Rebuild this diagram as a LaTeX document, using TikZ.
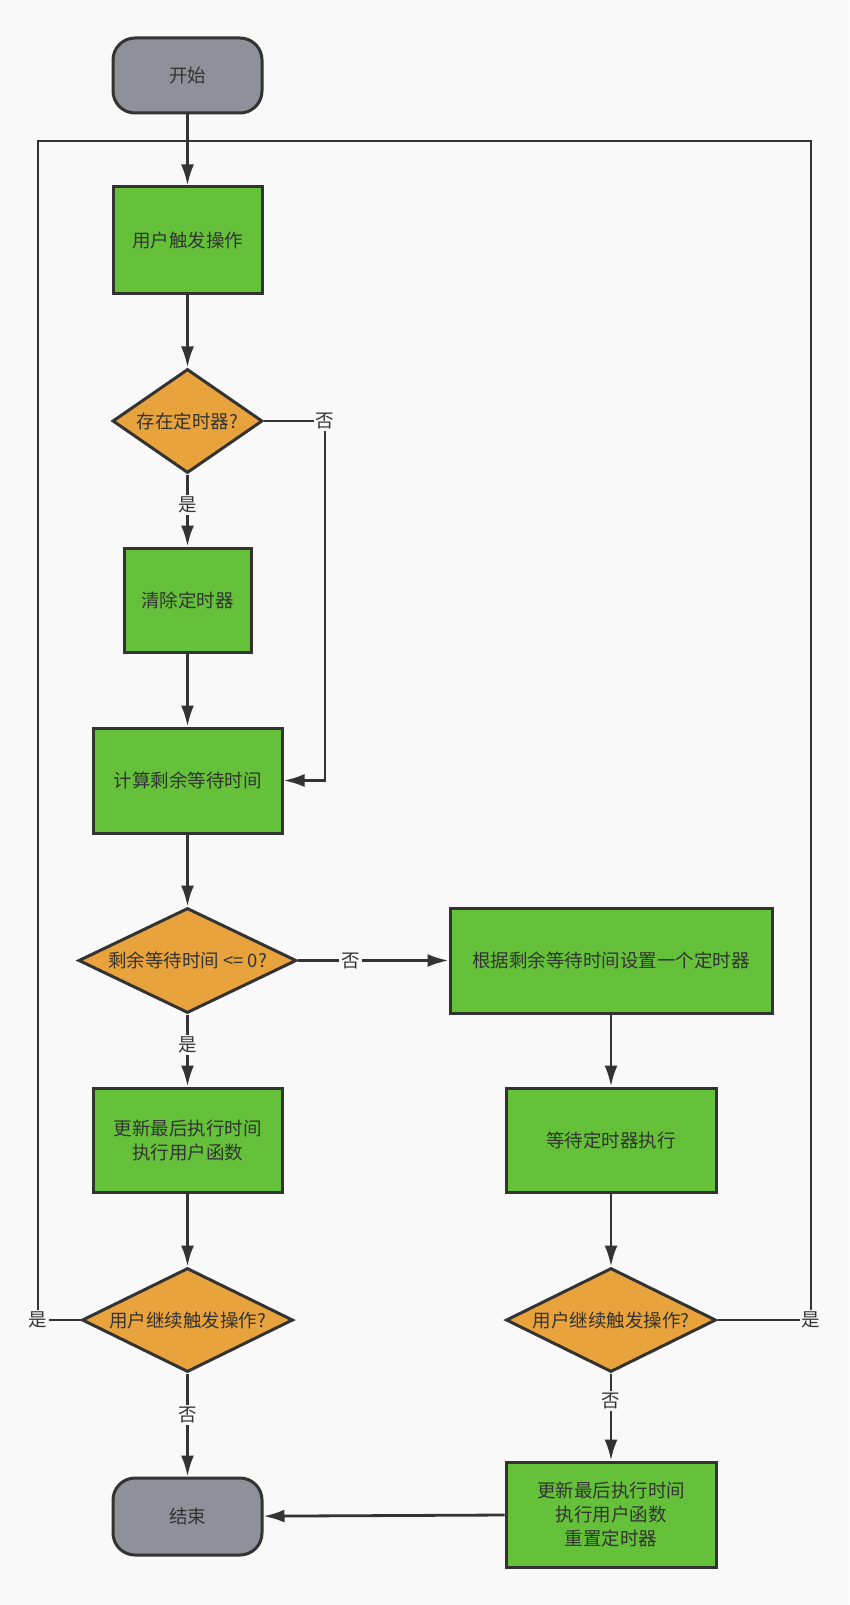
\documentclass[tikz,border=0pt]{standalone}
\usepackage{fontspec}
\setmainfont{Noto Sans CJK SC}
\usetikzlibrary{shapes.geometric,arrows.meta}

\definecolor{bgc}{HTML}{F9F9F9}
\definecolor{linec}{HTML}{333333}
\definecolor{termc}{HTML}{8E9199}
\definecolor{procc}{HTML}{66C13A}
\definecolor{decc}{HTML}{E8A33C}

\tikzset{
  every node/.style={inner sep=0pt, font=\fontsize{18.5}{24}\selectfont, text=linec},
  term/.style={draw=linec, line width=3pt, fill=termc, rounded corners=22pt},
  proc/.style={draw=linec, line width=3pt, fill=procc, align=center},
  decision/.style={diamond, draw=linec, line width=3pt, fill=decc},
  lbl/.style={fill=bgc, inner sep=2pt},
  conn/.style={draw=linec, line width=2.8pt},
  arr/.style={conn, -{Latex[length=21pt,width=13pt]}}
}

\begin{document}
\begin{tikzpicture}[x=1pt, y=-1pt]
  \fill[bgc] (0,0) rectangle (849,1605);
  \useasboundingbox (0,0) rectangle (849,1605);

  % Left column
  \node[term, minimum width=149pt, minimum height=75pt] (start) at (187.5,75.5) {开始};
  \node[proc, minimum width=149pt, minimum height=106pt] (trig) at (187.5,240) {用户触发操作};
  \node[decision, minimum width=150pt, minimum height=104pt, label=center:{存在定时器?}] (hast) at (187.5,421) {};
  \node[proc, minimum width=127pt, minimum height=104pt] (clr) at (187.5,600) {清除定时器};
  \node[proc, minimum width=189pt, minimum height=105pt] (calc) at (187.5,780.5) {计算剩余等待时间};
  \node[decision, minimum width=218pt, minimum height=105pt, label=center:{剩余等待时间 <= 0?}] (due) at (187.5,960.5) {};
  \node[proc, minimum width=189pt, minimum height=104pt] (run) at (187.5,1140) {更新最后执行时间\\执行用户函数};
  \node[decision, minimum width=211pt, minimum height=104pt, label=center:{用户继续触发操作?}] (againL) at (187.5,1320) {};
  \node[term, minimum width=149pt, minimum height=77pt] (stop) at (187.5,1516.5) {结束};

  % Right column
  \node[proc, minimum width=322pt, minimum height=105pt] (setT) at (611,960.5) {根据剩余等待时间设置一个定时器};
  \node[proc, minimum width=210pt, minimum height=104pt] (waitT) at (611,1140) {等待定时器执行};
  \node[decision, minimum width=210pt, minimum height=104pt, label=center:{用户继续触发操作?}] (againR) at (611,1320) {};
  \node[proc, minimum width=210pt, minimum height=105pt] (runR) at (611,1514.5) {更新最后执行时间\\执行用户函数\\重置定时器};

  % Loop corners
  \coordinate (loopL) at (38,141);
  \coordinate (loopR) at (811,141);
  \coordinate (join) at (187.5,141);
  \coordinate (skip) at (325,780.5);

  % Connectors
  \draw[arr] (start) -- (trig);
  \draw[arr] (trig) -- (hast);
  \draw[arr] (hast) -- node[lbl, pos=0.42] {是} (clr);
  \draw[arr] (hast.east) -| node[lbl] {否} (skip) -- (calc.east);
  \draw[arr] (clr) -- (calc);
  \draw[arr] (calc) -- (due);
  \draw[arr] (due) -- node[lbl, pos=0.35] {否} (setT);
  \draw[arr] (due) -- node[lbl, pos=0.42] {是} (run);
  \draw[arr] (run) -- (againL);
  \draw[arr] (setT) -- (waitT);
  \draw[arr] (waitT) -- (againR);
  \draw[arr] (againL) -- node[lbl, pos=0.4] {否} (stop);
  \draw[arr] (againR) -- node[lbl, pos=0.32] {否} (runR);
  \draw[arr] (runR) -- (stop);
  \draw[conn] (againL.west) -| node[lbl] {是} (loopL) -- (join);
  \draw[conn] (againR.east) -| node[lbl] {是} (loopR) -- (join);
\end{tikzpicture}
\end{document}
